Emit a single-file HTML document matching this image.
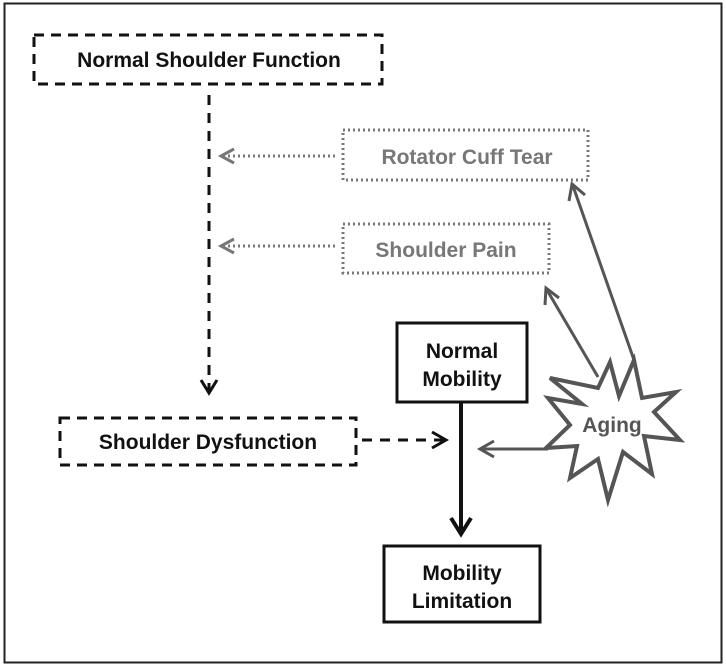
<!DOCTYPE html>
<html><head><style>body{margin:0;background:#fff}svg{display:block}</style></head><body>
<svg width="726" height="667" viewBox="0 0 726 667" xmlns="http://www.w3.org/2000/svg" font-family="Liberation Sans, sans-serif" font-weight="bold">
<rect x="4.5" y="3.5" width="717" height="659" fill="#fff" stroke="#222" stroke-width="2"/>
<rect x="34" y="35" width="348" height="49" fill="none" stroke="#111" stroke-width="3" stroke-dasharray="10,7"/>
<text x="209" y="67" font-size="21" text-anchor="middle" fill="#111">Normal Shoulder Function</text>
<line x1="209" y1="95" x2="209" y2="392" stroke="#111" stroke-width="3" stroke-dasharray="10,8"/>
<polyline points="201,380 209,393 217,380" fill="none" stroke="#111" stroke-width="3"/>
<rect x="343" y="130" width="245" height="50" fill="none" stroke="#777" stroke-width="3" stroke-dasharray="2,3"/>
<text x="467" y="164" font-size="21" text-anchor="middle" fill="#777">Rotator Cuff Tear</text>
<rect x="343" y="224" width="206" height="49" fill="none" stroke="#777" stroke-width="3" stroke-dasharray="2,3"/>
<text x="446" y="257" font-size="21" text-anchor="middle" fill="#777">Shoulder Pain</text>
<line x1="335" y1="156" x2="222" y2="156" stroke="#777" stroke-width="3" stroke-dasharray="2,3"/>
<polyline points="234,149 221,156 234,163" fill="none" stroke="#777" stroke-width="3"/>
<line x1="335" y1="246" x2="222" y2="246" stroke="#777" stroke-width="3" stroke-dasharray="2,3"/>
<polyline points="234,239 221,246 234,253" fill="none" stroke="#777" stroke-width="3"/>
<rect x="397" y="323" width="130" height="79" fill="#fff" stroke="#111" stroke-width="3"/>
<text x="462" y="358" font-size="21" text-anchor="middle" fill="#111">Normal</text>
<text x="462" y="386" font-size="21" text-anchor="middle" fill="#111">Mobility</text>
<rect x="60" y="418" width="296" height="47" fill="none" stroke="#111" stroke-width="3" stroke-dasharray="10,7"/>
<text x="208" y="449" font-size="21" text-anchor="middle" fill="#111">Shoulder Dysfunction</text>
<line x1="362" y1="440" x2="444" y2="440" stroke="#111" stroke-width="3" stroke-dasharray="10,8"/>
<polyline points="432,432 446,440 432,448" fill="none" stroke="#111" stroke-width="3"/>
<line x1="461" y1="402" x2="461" y2="530" stroke="#111" stroke-width="4"/>
<polyline points="451,518 461,534 471,518" fill="none" stroke="#111" stroke-width="4"/>
<rect x="384" y="546" width="156" height="76" fill="#fff" stroke="#111" stroke-width="3"/>
<text x="462" y="580" font-size="21" text-anchor="middle" fill="#111">Mobility</text>
<text x="462" y="608" font-size="21" text-anchor="middle" fill="#111">Limitation</text>
<polygon points="634,360 642,398 676,392 654,412 680,440 644,436 652,474 623,452 608,500 598,459 570,478 577,446 546,448 570,425 548,398 582,404 550,378 598,388 610,362 619,396" fill="#fff" stroke="#555" stroke-width="4" stroke-linejoin="miter"/>
<text x="612" y="432" font-size="21" text-anchor="middle" fill="#555">Aging</text>
<line x1="598" y1="377" x2="547" y2="290" stroke="#555" stroke-width="3"/>
<polyline points="545,305 546,288 559,298" fill="none" stroke="#555" stroke-width="3"/>
<line x1="634" y1="360" x2="573" y2="186" stroke="#555" stroke-width="3"/>
<polyline points="569,201 572,184 585,195" fill="none" stroke="#555" stroke-width="3"/>
<line x1="548" y1="449" x2="481" y2="449" stroke="#555" stroke-width="3"/>
<polyline points="494,441 480,449 494,457" fill="none" stroke="#555" stroke-width="3"/>
</svg>
</body></html>
